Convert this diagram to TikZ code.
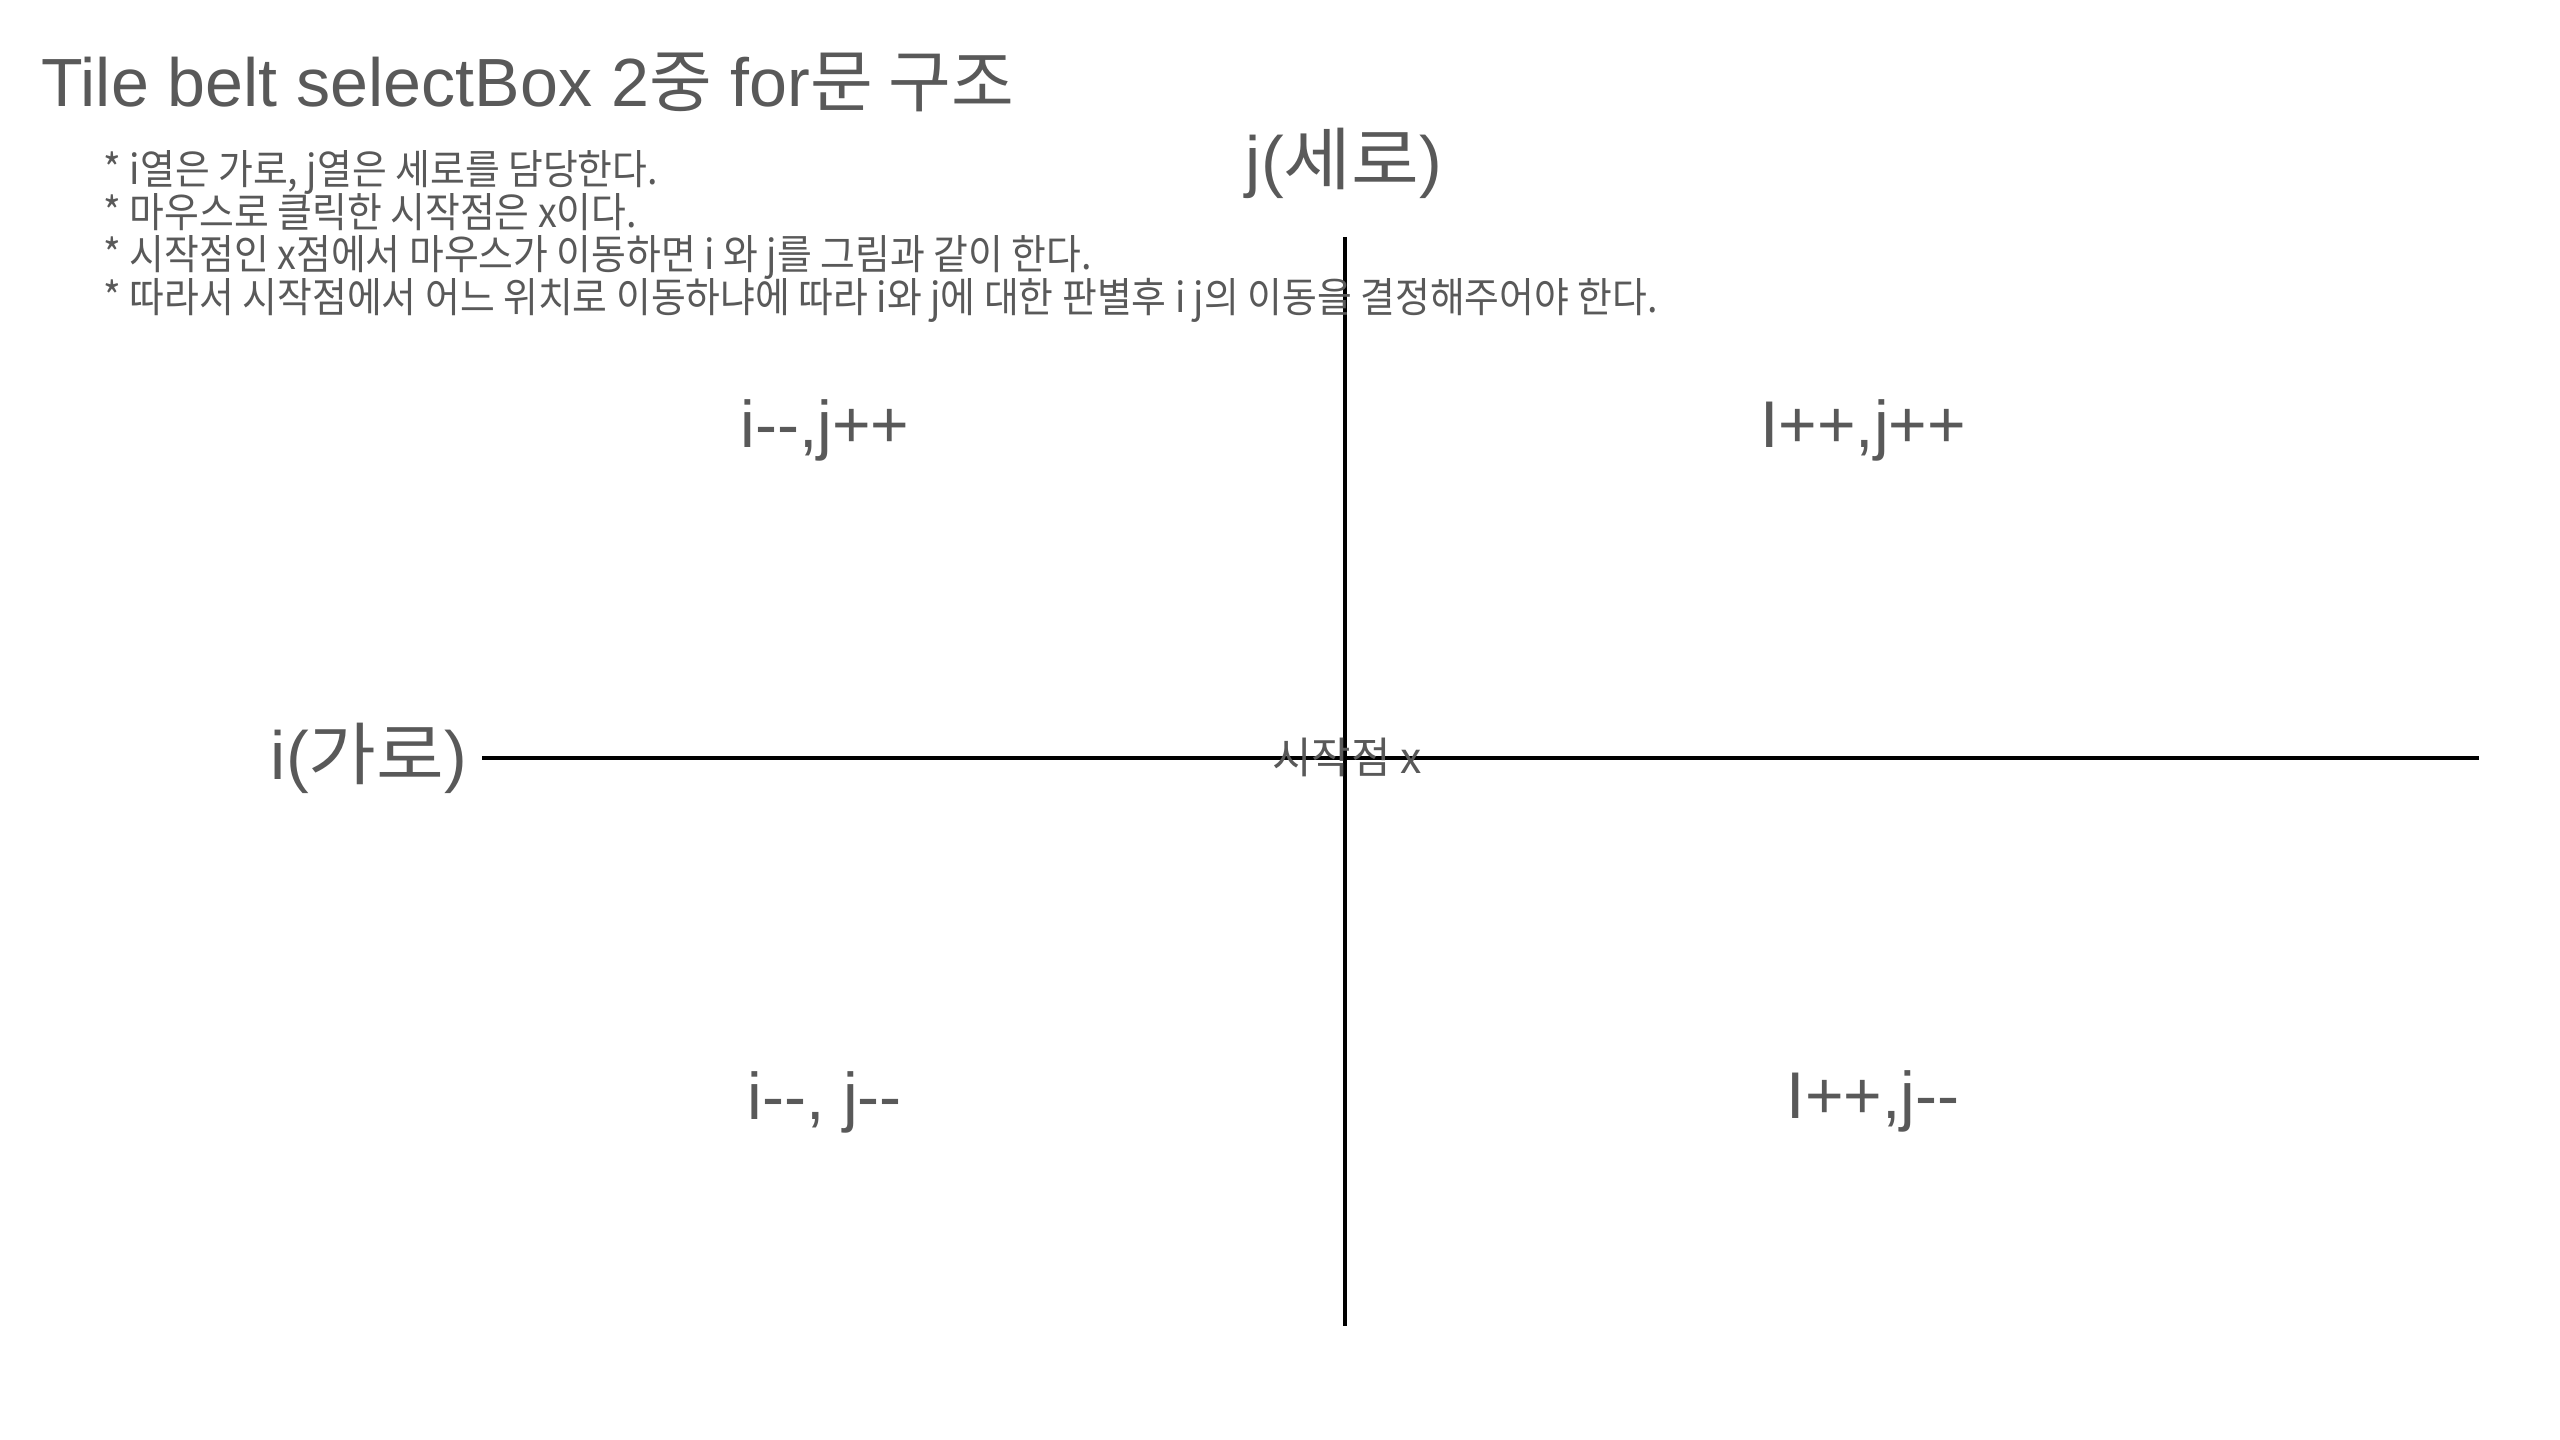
\documentclass[tikz,border=0pt]{standalone}
\usepackage{fontspec}
\newfontfamily\arial{Liberation Sans}
\newfontfamily\kr{Noto Sans CJK KR}
\newfontfamily\krn[FakeStretch=0.92]{Noto Sans CJK KR}
\newfontfamily\krw[FakeStretch=1.08]{Noto Sans CJK KR}
\definecolor{txt}{HTML}{595959}
\begin{document}
\begin{tikzpicture}[x=0.1mm,y=-0.1mm,
  lbl/.style={text=txt, inner sep=0pt, font=\arial\fontsize{18.8}{22}\selectfont},
  big/.style={text=txt, inner sep=0pt, font=\arial\fontsize{19.4}{23}\selectfont},
  note/.style={text=txt, inner sep=0pt, anchor=base west, font=\krn\fontsize{11.7}{14}\selectfont},
  axis/.style={line width=0.9pt, draw=black}]
\fill[white] (0,0) rectangle (2560,1440);
\useasboundingbox (0,0) rectangle (2560,1440);
% axes
\coordinate (vtop) at (1345,237);
\coordinate (vbot) at (1345,1326);
\coordinate (hl) at (482,758);
\coordinate (hr) at (2479,758);
\draw[axis] (vtop) -- (vbot);
\draw[axis] (hl) -- (hr);
% title
\node[big, anchor=base west] (title) at (41,107) {Tile belt selectBox 2{\kr 중} for{\kr 문 구조}};
% notes
\node[note] (n1) at (103,185) {* i열은 가로, j열은 세로를 담당한다.};
\node[note] (n2) at (103,228) {* 마우스로 클릭한 시작점은 x이다.};
\node[note] (n3) at (103,270) {* 시작점인 x점에서 마우스가 이동하면 i 와 j를 그림과 같이 한다.};
\node[note] (n4) at (103,313) {* 따라서 시작점에서 어느 위치로 이동하냐에 따라 i와 j에 대한 판별후 i j의 이동을 결정해주어야 한다.};
% axis labels
\node[big] (jlab) at (1344,163) {j({\krw 세로})};
\node[big] (ilab) at (369,758) {i({\krw 가로})};
\node[text=txt, inner sep=0pt, font=\kr\fontsize{12.2}{14}\selectfont] (start) at (1347,757) {시작점 x};
% quadrants
\node[lbl] (q2) at (825,430) {i--,j++};
\node[lbl] (q1) at (1863,430) {I++,j++};
\node[lbl] (q3) at (825,1102) {i--, j--};
\node[lbl] (q4) at (1873,1101) {I++,j--};
\end{tikzpicture}
\end{document}
